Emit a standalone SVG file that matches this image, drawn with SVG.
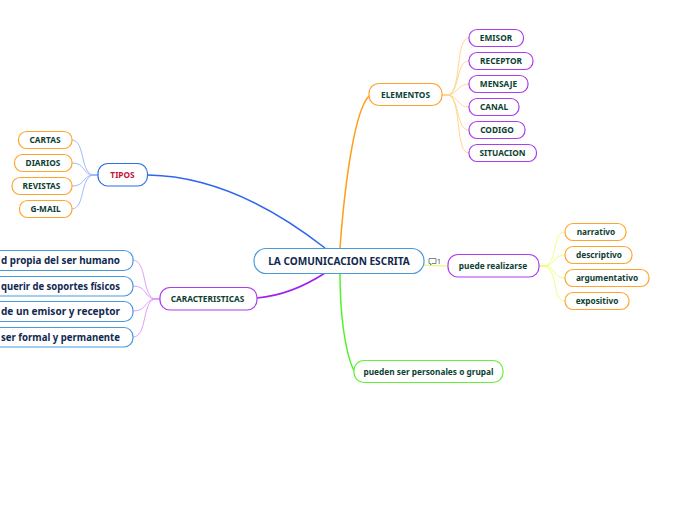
<svg xmlns="http://www.w3.org/2000/svg" width="696" height="520" viewBox="0 0 696 520">
<style>
.n{fill:#fff;stroke-width:1.2}
.o{stroke:#ffa52e}.p{stroke:#ab3cf0}.b{stroke:#2f6fe8}.s{stroke:#4a9bdc}.g{stroke:#62f23c}
text{font-family:"Noto Sans","Open Sans",sans-serif;font-weight:700;font-size:8.3px;fill:#0d3f33;text-anchor:middle}
.d{fill:#12284f;font-size:10.2px;text-anchor:end}
.r{fill:#12284f;font-size:10.1px}
.t{fill:#c3143c}
path{fill:none}
.c1{stroke:#9fbafb;stroke-width:1}.c2{stroke:#dd9ffb;stroke-width:1}.c3{stroke:#ffd690;stroke-width:1}.c4{stroke:#ecff7c;stroke-width:1}
</style>
<rect width="696" height="520" fill="#fff"/>
<g id="connectors">
<path d="M148 175C210 176 270 205 325 248" stroke="#2f66f0" stroke-width="1.500"/>
<path d="M257 298C280 296 305 286 325 273" stroke="#a020f0" stroke-width="1.500"/>
<path d="M340 248C345 180 355 110 369 96" stroke="#ff9f1c" stroke-width="1.500"/>
<path d="M340 273C340 310 344 350 354 371" stroke="#55f02c" stroke-width="1.500"/>
<path d="M424 265Q436 266 448 266" stroke="#e6f55a" stroke-width="1.200"/>
<path d="M98 175H92" stroke="#9fbafb" stroke-width="2"/>
<path class="c1" d="M92 175C80 170 85 141 72 140"/><path class="c1" d="M92 175C82 173 85 163 72 163"/><path class="c1" d="M92 175C82 177 85 186 72 186"/><path class="c1" d="M92 175C80 180 85 208 72 209"/>
<path d="M160 299H154" stroke="#dd9ffb" stroke-width="2"/>
<path class="c2" d="M154 299C142 294 147 261 133 260"/><path class="c2" d="M154 299C144 297 147 286 133 286"/><path class="c2" d="M154 299C144 301 147 311 133 311"/><path class="c2" d="M154 299C142 304 147 337 133 337"/>
<path d="M442 95H449" stroke="#ffd690" stroke-width="2"/>
<path class="c3" d="M449 95C462 88 455 38 469 38"/><path class="c3" d="M449 95C460 90 456 61 469 61"/><path class="c3" d="M449 95C458 93 458 84 469 84"/><path class="c3" d="M449 95C458 97 458 107 469 107"/><path class="c3" d="M449 95C460 100 456 130 469 130"/><path class="c3" d="M449 95C462 102 455 153 469 153"/>
<path d="M539 266H546" stroke="#ecff7c" stroke-width="2"/>
<path class="c4" d="M546 266C558 260 552 232 565 232"/><path class="c4" d="M546 266C556 264 553 255 565 255"/><path class="c4" d="M546 266C556 268 553 278 565 278"/><path class="c4" d="M546 266C558 272 552 301 565 301"/>
</g>
<g id="root"><rect class="n s" x="254" y="248.500" width="170" height="25" rx="12"/><text class="r" x="339" y="265">LA COMUNICACION ESCRITA</text></g>
<g id="comment"><path d="M429 258.500h7v5h-4l-1.500 1.500v-1.500h-1.500z" stroke="#5a6b6b" stroke-width="0.800"/><text x="439" y="264" style="font-size:7px;font-weight:400;fill:#445">1</text></g>
<g id="tipos"><rect class="n b" x="98" y="163.500" width="49.500" height="22.500" rx="10"/><text class="t" x="122.500" y="178">TIPOS</text></g>
<g id="cartas"><rect class="n o" x="18.500" y="131.500" width="53.500" height="17" rx="8"/><text x="45" y="143">CARTAS</text></g>
<g id="diarios"><rect class="n o" x="14.500" y="154.500" width="57.500" height="17" rx="8"/><text x="43" y="166">DIARIOS</text></g>
<g id="revistas"><rect class="n o" x="12" y="177.500" width="60" height="17" rx="8"/><text x="41.500" y="189">REVISTAS</text></g>
<g id="gmail"><rect class="n o" x="19.500" y="200.500" width="52.500" height="17" rx="8"/><text x="45.500" y="212">G-MAIL</text></g>
<g id="caracteristicas"><rect class="n p" x="160" y="287.500" width="97" height="22.500" rx="10"/><text x="207.500" y="302">CARACTERISTICAS</text></g>
<g id="car1"><rect class="n s" x="-80" y="250.500" width="213" height="20" rx="9"/><text class="d" x="120" y="264" textLength="119" lengthAdjust="spacingAndGlyphs">d propia del ser humano</text></g>
<g id="car2"><rect class="n s" x="-80" y="276.500" width="213" height="19.500" rx="9"/><text class="d" x="120" y="290" textLength="119" lengthAdjust="spacingAndGlyphs">querir de soportes físicos</text></g>
<g id="car3"><rect class="n s" x="-80" y="301.500" width="213" height="20" rx="9"/><text class="d" x="120" y="315" textLength="119" lengthAdjust="spacingAndGlyphs">de un emisor y receptor</text></g>
<g id="car4"><rect class="n s" x="-80" y="327.500" width="213" height="19.500" rx="9"/><text class="d" x="120" y="341" textLength="119" lengthAdjust="spacingAndGlyphs">ser formal y permanente</text></g>
<g id="elementos"><rect class="n o" x="369" y="83.500" width="73" height="22" rx="10"/><text x="405.500" y="98">ELEMENTOS</text></g>
<g id="emisor"><rect class="n p" x="469" y="29.500" width="54.500" height="17" rx="8"/><text x="496" y="41">EMISOR</text></g>
<g id="receptor"><rect class="n p" x="469" y="52.500" width="64" height="17" rx="8"/><text x="501" y="64">RECEPTOR</text></g>
<g id="mensaje"><rect class="n p" x="469" y="75.500" width="59" height="17" rx="8"/><text x="498.500" y="87">MENSAJE</text></g>
<g id="canal"><rect class="n p" x="469" y="98.500" width="50" height="17" rx="8"/><text x="494" y="110">CANAL</text></g>
<g id="codigo"><rect class="n p" x="469" y="121.500" width="56" height="17" rx="8"/><text x="497" y="133">CODIGO</text></g>
<g id="situacion"><rect class="n p" x="469" y="144.500" width="67.500" height="17" rx="8"/><text x="502.500" y="156">SITUACION</text></g>
<g id="puede"><rect class="n p" x="448" y="254.500" width="91" height="22.500" rx="10"/><text x="493" y="269">puede realizarse</text></g>
<g id="narrativo"><rect class="n o" x="565" y="223.500" width="61" height="17" rx="8"/><text x="596" y="235">narrativo</text></g>
<g id="descriptivo"><rect class="n o" x="565" y="246.500" width="67" height="17" rx="8"/><text x="599" y="258">descriptivo</text></g>
<g id="argumentativo"><rect class="n o" x="565" y="269.500" width="84" height="17" rx="8"/><text x="607" y="281">argumentativo</text></g>
<g id="expositivo"><rect class="n o" x="565" y="292.500" width="64" height="17" rx="8"/><text x="597" y="304">expositivo</text></g>
<g id="pueden"><rect class="n g" x="354" y="360.500" width="149" height="22" rx="10"/><text x="428.500" y="375">pueden ser personales o grupal</text></g>
</svg>
